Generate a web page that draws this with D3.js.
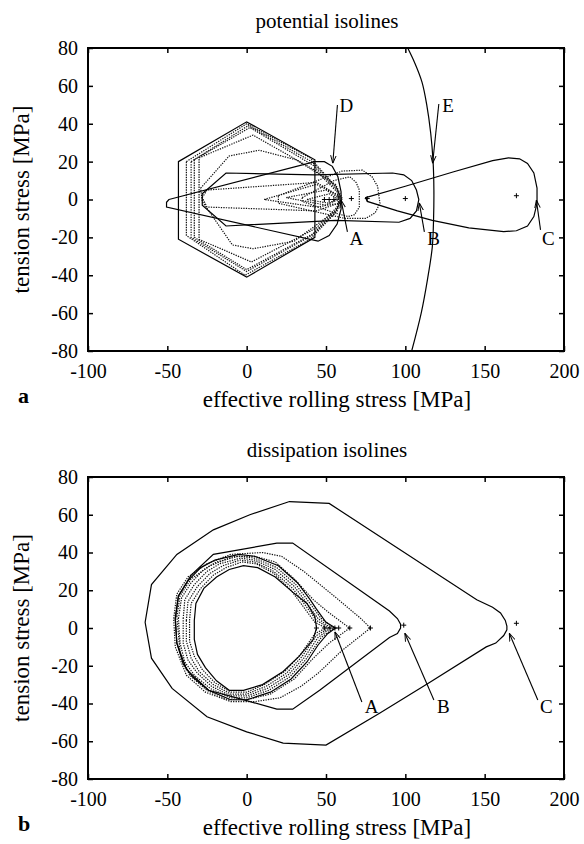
<!DOCTYPE html>
<html>
<head>
<meta charset="utf-8">
<script src="https://cdn.jsdelivr.net/npm/d3@7"></script>
<style>
body { margin: 0; background: #fff; }
svg { display: block; }
text { font-family: "Liberation Serif", "Times New Roman", serif; fill: #000; }
</style>
</head>
<body>
<svg id="fig" width="584" height="844"></svg>
<script>
// shared axis ticks
const xTicks = [-100, -50, 0, 50, 100, 150, 200];
const yTicks = [-80, -60, -40, -20, 0, 20, 40, 60, 80];

// ---- panel a: potential isolines (MPa, MPa) ----
const potHex = [[-43,20],[0,41],[43,21],[43,-20],[0,-41],[-43,-21]];
const potTearD = [[-49,0],[43,20],[49,20],[54,17.5],[57.5,12],[59.5,4],[59.5,-5],[57,-13],[52,-19],[45,-22],[-50.5,-4],[-50.5,-1.5]];
const potLensB = [[-28,3],[-13,14],[43,13],[92,14],[99,13],[104,10],[107,5],[108.5,0],[107,-6],[103,-10],[96,-12],[56,-11],[-13,-14],[-28,-3]];
const potLensC = [[75,1],[100,7],[130,14.5],[155,20.5],[165,22],[172,21.5],[177,19],[181,14],[183,6],[183,-2],[181,-9],[177,-14],[170,-16.5],[162,-17],[140,-15],[117,-11],[95,-6],[76,-1]];
const potE = [[101.5,80],[106,72],[110.5,62],[113.5,50],[116,35],[117.5,20],[118,5],[117.8,-10],[117,-25],[114,-42],[110,-60],[104,-80]];
const potDot1 = [[-38,20],[0,40],[40,22],[56,7],[60,0],[56,-7],[40,-21],[-1,-40],[-38,-19]];
const potDot2 = [[-35,20],[1,39],[41,20],[57,6],[59,0],[57,-6],[41,-19],[0,-38],[-35,-20]];
const potDot3 = [[-33,21],[2,38],[42,18],[57,5],[59,0],[57,-5],[42,-18],[0,-37],[-33,-20]];
const potDot4 = [[-30,22],[4,34],[44,15],[57,4],[58,0],[57,-4],[44,-15],[3,-33],[-30,-21]];
const potDot5 = [[-29,6],[-11,23],[8,26],[31,21],[56,8],[60,1],[56,-6],[30,-22],[4,-26],[-9,-24],[-28,-1]];
const potDot6 = [[-28,1],[-25,5],[44,9],[58,2],[58,-2],[44,-6],[-25,-4]];
const potDot7 = [[11,0],[44,8],[58,2],[58,-2],[44,-4]];
const potDot8 = [[25,1],[50,5],[58,1],[50,-3]];
const potDot9 = [[38,0],[52,3],[58,0],[52,-2]];
const potDotA1 = [[35,1],[55,10],[65,12],[69,9],[71,5],[71,-4],[68,-8],[64,-9],[55,-7],[35,-1]];
const potDotA2 = [[20,2],[60,15],[73,15.5],[79,12],[82.5,7],[84,-2],[81,-7],[75,-10],[62,-10],[20,-2]];
const potMarkX = [49, 52, 55, 66, 76, 100, 170];
const potMarkY = [0, 0, 0, 0.5, 0.5, 0.5, 2];
const potNoteText = ["D", "E", "A", "B", "C"];
const potNoteAt = [[58.5,46.2],[123.3,46.2],[64.8,-24],[113.8,-24],[186.2,-24]];
const potNoteFrom = [[57.2,49.9],[121.1,50.4],[63.5,-17.1],[112,-17.1],[185.2,-16]];
const potNoteTo = [[54.3,19.1],[117.2,19.1],[59.5,-0.3],[108.8,-1.8],[182.6,-0.3]];

// ---- panel b: dissipation isolines ----
const disC = [[-64,3],[-60,23],[-44,39],[-21,52],[2,60],[27,67],[52,66],[145,15],[155,11],[160,8],[163,4],[164,1],[164,-1],[162,-4],[157,-8],[151,-10],[115,-29],[84,-45],[50,-62],[23,-61],[0,-55],[-25,-47],[-47,-32],[-60,-16]];
const disB = [[-45,5],[-43,17],[-35,28],[-21,39],[19,45],[29,45],[90,9],[95,5],[97,2],[97,0],[95,-3],[90,-5],[46,-33],[29,-43],[19,-43],[0,-38.5],[-24,-33],[-38,-22],[-44,-8]];
const disRingA = [[-45,5],[-43,17],[-37,25],[-29,32],[-20,36],[-5,39],[5,38],[20,33],[32,24],[40,15],[44,10],[50,3],[56,0],[51,-3],[45,-9],[38,-18],[28,-27],[15,-34],[0,-38],[-10,-38],[-24,-33],[-34,-26],[-40,-19],[-44,-8]];
const disRingB = [[-43,5],[-41,16],[-35,24],[-27,31],[-19,35],[-5,38],[5,37],[19,32],[31,23],[39,14],[47,5],[55,0],[47,-5],[37,-17],[27,-26],[14,-33],[0,-37],[-10,-37],[-23,-32],[-33,-25],[-39,-18],[-42,-8]];
const disRingC = [[-40,5],[-39,15],[-33,23],[-25,30],[-17,34],[-4,37],[5,36],[18,31],[30,22],[38,13],[45,5],[53,0],[45,-5],[36,-16],[26,-25],[13,-32],[0,-36],[-10,-36],[-22,-31],[-31,-24],[-37,-17],[-40,-8]];
const disRingD = [[-38,4],[-37,14],[-31,22],[-23,29],[-15,33],[-4,36],[5,35],[17,30],[29,21],[37,12],[44,4],[52,0],[44,-4],[35,-15],[25,-24],[12,-31],[0,-35],[-10,-35],[-21,-30],[-30,-23],[-35,-16],[-38,-7]];
const disRingE = [[-36,4],[-35,13],[-29,21],[-21,28],[-13,32],[-3,35],[6,34],[17,29],[28,20],[36,11],[43,3],[50,0],[43,-3],[34,-14],[24,-23],[11,-30],[0,-34],[-10,-34],[-20,-29],[-28,-22],[-33,-15],[-36,-7]];
const disRingF = [[-33,4],[-32,13],[-27,21],[-19,27],[-11,31],[-2,33],[7,32],[18,27],[29,19],[38,13],[43,6],[44,0],[42,-6],[33,-15],[23,-23],[10,-30],[-2,-33],[-11,-33],[-19,-28],[-26,-21],[-31,-14],[-33,-6]];
const disDot1 = [[-46,5],[-44,18],[-37,27],[-25,34],[-10,39],[10,40],[22,38],[36,30],[55,17],[72,5],[78,0],[72,-4],[60,-12],[45,-24],[34,-31],[21,-37],[5,-39],[-10,-39],[-26,-34],[-38,-25],[-45,-10]];
const disDot2 = [[-44,6],[-42,17],[-35,26],[-23,33],[-8,38],[5,38],[18,35],[30,26],[42,15],[52,8],[60,3],[65,0],[60,-3],[52,-8],[42,-16],[30,-27],[15,-35],[0,-38],[-12,-38],[-25,-33],[-36,-25],[-42,-13]];
const disMarkX = [44, 49, 52.5, 55.6, 58, 65, 78, 99, 170];
const disMarkY = [0, 0, 0, 0, 0, 0, 0, 1.5, 2.5];
const disNoteText = ["A", "B", "C"];
const disNoteAt = [[74.5,-45],[119.9,-45],[184.8,-45]];
const disNoteFrom = [[72.6,-39.2],[118,-38.1],[183.5,-38.1]];
const disNoteTo = [[55.6,-2],[99.7,-2.8],[165.5,-2.8]];

let svg = d3.select("#fig");

svg.append("defs").append("marker")
    .attr("id", "arr")
    .attr("viewBox", "0 0 10 10")
    .attr("refX", 10).attr("refY", 5)
    .attr("markerWidth", 8).attr("markerHeight", 8)
    .attr("markerUnits", "userSpaceOnUse")
    .attr("orient", "auto")
  .append("path")
    .attr("d", "M0,1.5 L10,5 L0,8.5")
    .attr("fill", "none")
    .attr("stroke", "#000")
    .attr("stroke-width", 1.2);

function drawPanel(p) {
    let left = 88, right = 564;
    let x = d3.scaleLinear().domain([-100, 200]).range([left, right]);
    let y = d3.scaleLinear().domain([-80, 80]).range([p.bottom, p.top]);
    let g = svg.append("g");

    let clipId = "clip-" + p.tag;
    g.append("clipPath").attr("id", clipId)
      .append("rect")
        .attr("x", left).attr("y", p.top)
        .attr("width", right - left).attr("height", p.bottom - p.top);

    let fmt = d => String(d);
    // axes: ticks point inward on all four sides
    let ax = g.append("g").attr("transform", "translate(0," + p.bottom + ")")
        .call(d3.axisBottom(x).tickValues(xTicks).tickSizeInner(-5).tickSizeOuter(0).tickPadding(13).tickFormat(fmt));
    let ay = g.append("g").attr("transform", "translate(" + left + ",0)")
        .call(d3.axisLeft(y).tickValues(yTicks).tickSizeInner(-5).tickSizeOuter(0).tickPadding(10).tickFormat(fmt));
    g.append("g").attr("transform", "translate(0," + p.top + ")")
        .call(d3.axisTop(x).tickValues(xTicks).tickSizeInner(-5).tickSizeOuter(0).tickFormat(""));
    g.append("g").attr("transform", "translate(" + right + ",0)")
        .call(d3.axisRight(y).tickValues(yTicks).tickSizeInner(-5).tickSizeOuter(0).tickFormat(""));
    g.selectAll(".domain").remove();
    g.selectAll(".tick line").attr("stroke", "#000").attr("stroke-width", 1.5);
    [ax, ay].forEach(a => a.attr("font-family", null).attr("font-size", 20));

    g.append("rect")
        .attr("x", left).attr("y", p.top)
        .attr("width", right - left).attr("height", p.bottom - p.top)
        .attr("fill", "none").attr("stroke", "#000").attr("stroke-width", 2);

    // isolines
    let plot = g.append("g").attr("clip-path", "url(#" + clipId + ")");
    let closed = d3.line().x(d => x(d[0])).y(d => y(d[1])).curve(d3.curveLinearClosed);
    let open = d3.line().x(d => x(d[0])).y(d => y(d[1])).curve(d3.curveCatmullRom.alpha(0.5));

    p.dotted.forEach(c => {
        plot.append("path").attr("d", closed(c))
            .attr("fill", "none").attr("stroke", "#111")
            .attr("stroke-width", 1.2).attr("stroke-dasharray", "1.3,1.2");
    });
    p.solid.forEach(c => {
        plot.append("path").attr("d", closed(c))
            .attr("fill", "none").attr("stroke", "#000").attr("stroke-width", 1.2);
    });
    p.openSolid.forEach(c => {
        plot.append("path").attr("d", open(c))
            .attr("fill", "none").attr("stroke", "#000").attr("stroke-width", 1.2);
    });

    // "+" markers at the minima
    p.markX.forEach((mx, i) => {
        let cx = x(mx), cy = y(p.markY[i]);
        plot.append("path")
            .attr("d", "M" + (cx - 2.5) + "," + cy + "H" + (cx + 2.5) + "M" + cx + "," + (cy - 2.5) + "V" + (cy + 2.5))
            .attr("stroke", "#000").attr("stroke-width", 1);
    });

    // letter annotations with arrows
    p.noteText.forEach((t, i) => {
        g.append("line")
            .attr("x1", x(p.noteFrom[i][0])).attr("y1", y(p.noteFrom[i][1]))
            .attr("x2", x(p.noteTo[i][0])).attr("y2", y(p.noteTo[i][1]))
            .attr("stroke", "#000").attr("stroke-width", 1.1)
            .attr("marker-end", "url(#arr)");
        g.append("text")
            .attr("x", x(p.noteAt[i][0])).attr("y", y(p.noteAt[i][1]))
            .attr("font-size", 19)
            .text(t);
    });

    // titles
    g.append("text").attr("x", 327).attr("y", p.top - 20)
        .attr("text-anchor", "middle").attr("font-size", 21).text(p.title);
    g.append("text").attr("x", 337).attr("y", p.bottom + 56)
        .attr("text-anchor", "middle").attr("font-size", 23).text("effective rolling stress [MPa]");
    g.append("text")
        .attr("transform", "translate(29," + ((p.top + p.bottom) / 2) + ") rotate(-90)")
        .attr("text-anchor", "middle").attr("font-size", 23).text("tension stress [MPa]");
    g.append("text").attr("x", 18).attr("y", p.bottom + 52)
        .attr("font-size", 22).attr("font-weight", "bold").text(p.tag);
}

drawPanel({
    tag: "a", title: "potential isolines", top: 48, bottom: 351,
    solid: [potHex, potTearD, potLensB, potLensC],
    openSolid: [potE],
    dotted: [potDot1, potDot2, potDot3, potDot4, potDot5, potDot6, potDot7, potDot8, potDot9, potDotA1, potDotA2],
    markX: potMarkX, markY: potMarkY,
    noteText: potNoteText, noteAt: potNoteAt, noteFrom: potNoteFrom, noteTo: potNoteTo
});

drawPanel({
    tag: "b", title: "dissipation isolines", top: 477, bottom: 779,
    solid: [disC, disB, disRingA, disRingF],
    openSolid: [],
    dotted: [disRingB, disRingC, disRingD, disRingE, disDot1, disDot2],
    markX: disMarkX, markY: disMarkY,
    noteText: disNoteText, noteAt: disNoteAt, noteFrom: disNoteFrom, noteTo: disNoteTo
});
</script>
</body>
</html>
